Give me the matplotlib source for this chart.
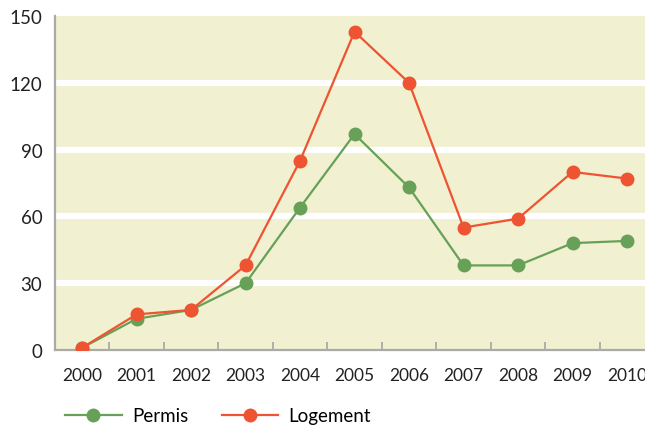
import matplotlib.pyplot as plt
import numpy as np

plt.rcParams["font.family"] = ["Lato", "DejaVu Sans"]

years = ["2000", "2001", "2002", "2003", "2004", "2005", "2006", "2007", "2008", "2009", "2010"]
permis = [1, 14, 18, 30, 64, 97, 73, 38, 38, 48, 49]
logement = [1, 16, 18, 38, 85, 143, 120, 55, 59, 80, 77]
yticks = [0, 30, 60, 90, 120, 150]

green = "#67a057"
red = "#ee5332"
bg = "#f1f0d0"

fig = plt.figure(figsize=(6.45, 4.27), dpi=100)
ax = fig.add_axes([0.085, 0.178, 0.915, 0.782])
ax.set_facecolor(bg)

x = np.arange(len(years))
ax.plot(x, permis, color=green, lw=1.6, marker="o", ms=9, label="Permis", zorder=3)
ax.plot(x, logement, color=red, lw=1.6, marker="o", ms=9, label="Logement", zorder=4)

ax.set_xlim(-0.5, 10.33)
ax.set_ylim(0, 150)

for v in yticks[1:-1]:
    ax.axhline(v, color="white", lw=4.5, zorder=1)

ax.set_yticks(yticks)
ax.tick_params(axis="y", length=0, pad=9, labelsize=13.5, labelcolor="#222222")
ax.set_xticks(x)
ax.set_xticklabels(years)
ax.tick_params(axis="x", which="major", length=0, pad=12, labelsize=12.5, labelcolor="#222222")
ax.set_xticks(np.arange(0.5, 10, 1), minor=True)
ax.tick_params(axis="x", which="minor", direction="in", length=6, width=1.3, color="#aaaaaa")

for s in ["top", "right"]:
    ax.spines[s].set_visible(False)
for s in ["left", "bottom"]:
    ax.spines[s].set_color("#aaaaaa")
    ax.spines[s].set_linewidth(1.6)

fig.legend(loc="lower left", bbox_to_anchor=(0.075, -0.035), ncol=2, frameon=False,
           fontsize=13.5, handlelength=3.0, columnspacing=1.8, handletextpad=0.55)

fig.savefig("out.png", dpi=100)
